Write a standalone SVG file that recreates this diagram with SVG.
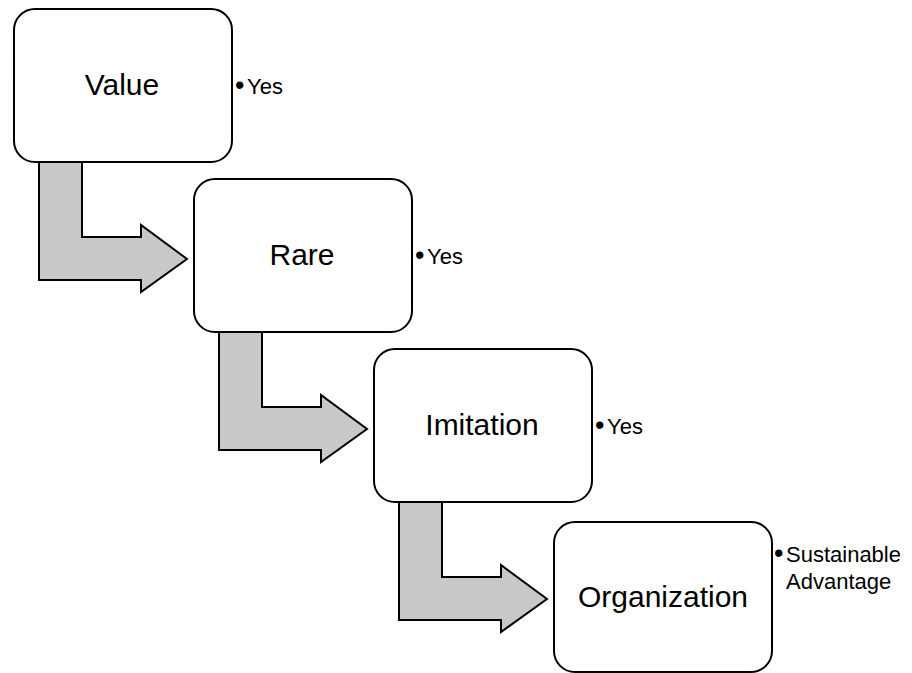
<svg xmlns="http://www.w3.org/2000/svg" width="912" height="673" viewBox="0 0 912 673">
  <style>
    .box { fill: #ffffff; stroke: #000000; stroke-width: 2; }
    .flow { fill: #c8c8c8; stroke: #000000; stroke-width: 2; stroke-linejoin: miter; }
    .title { font-family: "Liberation Sans", Arial, sans-serif; font-size: 30px; fill: #000000; text-anchor: middle; }
    .note { font-family: "Liberation Sans", Arial, sans-serif; font-size: 22px; fill: #000000; }
    .dot { font-size: 27px; }
  </style>
  <defs>
    <!-- bent block arrow: drops from a box bottom, turns right into the next box -->
    <path id="bend" d="M0,0 L43,0 L43,75 L102,75 L102,63 L148,97 L102,130 L102,118 L0,118 Z"/>
  </defs>
  <rect width="912" height="673" fill="#ffffff"/>

  <g id="connectors">
    <use href="#bend" class="flow" x="39" y="162"/>
    <use href="#bend" class="flow" x="219" y="332"/>
    <use href="#bend" class="flow" x="399" y="502"/>
  </g>

  <g id="value">
    <rect class="box" x="14" y="9" width="218" height="153" rx="21"/>
    <text class="title" x="122" y="95">Value</text>
    <text class="note" x="235" y="94"><tspan class="dot">•</tspan><tspan x="247">Yes</tspan></text>
  </g>

  <g id="rare">
    <rect class="box" x="194" y="179" width="218" height="153" rx="21"/>
    <text class="title" x="302" y="265">Rare</text>
    <text class="note" x="415" y="264"><tspan class="dot">•</tspan><tspan x="427">Yes</tspan></text>
  </g>

  <g id="imitation">
    <rect class="box" x="374" y="349" width="218" height="153" rx="21"/>
    <text class="title" x="482" y="435">Imitation</text>
    <text class="note" x="595" y="434"><tspan class="dot">•</tspan><tspan x="607">Yes</tspan></text>
  </g>

  <g id="organization">
    <rect class="box" x="554" y="522" width="218" height="150" rx="21"/>
    <text class="title" x="663" y="607">Organization</text>
    <text class="note" x="774" y="562"><tspan class="dot">•</tspan><tspan x="786">Sustainable</tspan></text>
    <text class="note" x="786" y="589">Advantage</text>
  </g>
</svg>
